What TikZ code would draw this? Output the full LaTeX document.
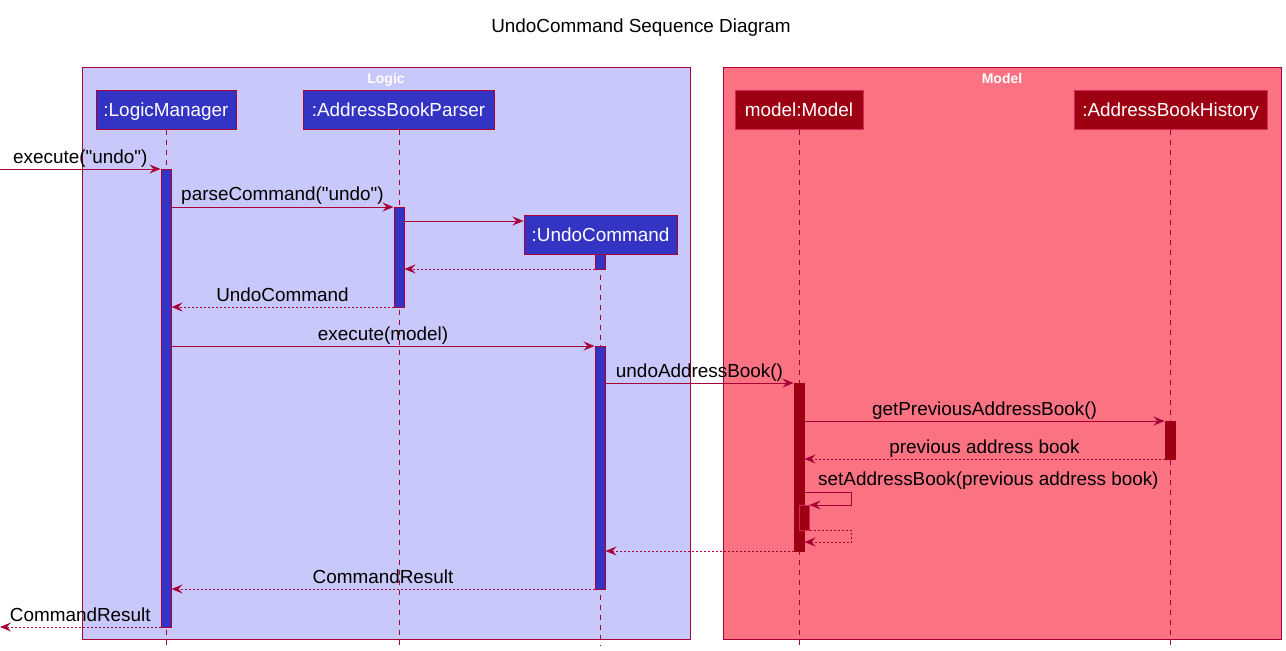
\documentclass[tikz,border=0pt]{standalone}
\usepackage{fontspec}
\setmainfont{Liberation Sans}[Ligatures=TeXOff]
\usetikzlibrary{arrows.meta}
\definecolor{bord}{RGB}{168,0,54}
\definecolor{logicbg}{RGB}{200,200,250}
\definecolor{modelbg}{RGB}{251,115,131}
\definecolor{pblue}{RGB}{51,51,196}
\definecolor{pred}{RGB}{157,0,18}
\definecolor{pborder}{RGB}{210,40,90}
\newcommand{\lblfont}{\fontsize{18.9}{22}\selectfont}
\newcommand{\grpfont}{\fontsize{14}{16}\selectfont\bfseries}
\begin{document}
\begin{tikzpicture}[x=1pt,y=-1pt,
  lbl/.style={font=\lblfont, inner sep=0pt, text=black},
  grp/.style={draw=bord, line width=1pt},
  grptitle/.style={font=\grpfont, text=white, inner sep=0pt, anchor=base},
  partB/.style={rectangle, fill=pblue, draw=bord, line width=1pt, text=white, font=\lblfont,
    inner sep=0pt, minimum height=39pt, text height=15pt, text depth=1pt},
  partR/.style={partB, fill=pred, draw=pborder},
  actB/.style={rectangle, fill=pblue, draw=bord, line width=1pt, inner sep=0pt, minimum width=10pt, anchor=north},
  actR/.style={actB, fill=pred, draw=pred},
  actR2/.style={actB, fill=pred, draw=pborder},
  life/.style={draw=bord, line width=1pt, dash pattern=on 5pt off 5pt},
  msg/.style={draw=bord, line width=1pt, -{Stealth[length=11pt,width=9pt,inset=4pt]}},
  ret/.style={msg, dash pattern=on 2pt off 2pt},
  mlbl/.style={lbl, midway, anchor=base, yshift=6pt}
]
\useasboundingbox (0,0) rectangle (1286,651);
\fill[white] (0,0) rectangle (1286,651);

% title
\node[lbl, anchor=base] (title) at (641,32) {UndoCommand Sequence Diagram};

% groups
\path[grp, fill=logicbg] (82,67) rectangle (690,639);
\node[grptitle] (logicT) at (386,83) {Logic};
\path[grp, fill=modelbg] (723,67) rectangle (1281,639);
\node[grptitle] (modelT) at (1002,83) {Model};

% participants
\node[partB, minimum width=140pt] (lmP) at (166,109.5) {:LogicManager};
\node[partB, minimum width=191pt] (paP) at (398.5,109.5) {:AddressBookParser};
\node[partB, minimum width=153pt] (ucP) at (600.5,234.5) {:UndoCommand};
\node[partR, minimum width=128pt] (mdP) at (799,109.5) {model:Model};
\node[partR, minimum width=193pt] (hiP) at (1170.5,109.5) {:AddressBookHistory};

% lifeline ends
\coordinate (lmE) at (166,646);
\coordinate (paE) at (399,646);
\coordinate (ucE) at (600,646);
\coordinate (mdE) at (799,646);
\coordinate (hiE) at (1170,646);

\draw[life] (lmP.south -| lmE) -- (lmE);
\draw[life] (paP.south -| paE) -- (paE);
\draw[life] (ucP.south -| ucE) -- (ucE);
\draw[life] (mdP.south -| mdE) -- (mdE);
\draw[life] (hiP.south -| hiE) -- (hiE);

% activations
\node[actB, minimum height=458pt] (lmA) at (166,169) {};
\node[actB, minimum height=100pt] (paA) at (399,207) {};
\node[actB, minimum height=15pt] (ucA1) at (600,254) {};
\node[actB, minimum height=243pt] (ucA2) at (600,346) {};
\node[actR, minimum height=168pt] (mdA) at (799,383) {};
\node[actR2, minimum height=25pt] (mdA2) at (804,505) {};
\node[actR, minimum height=38pt] (hiA) at (1170,421) {};

% free ends
\coordinate (inS) at (0,169);
\coordinate (outE) at (0,627);
\coordinate (loop1a) at (851,492);
\coordinate (loop1b) at (851,505);
\coordinate (loop2a) at (851,530);
\coordinate (loop2b) at (851,542);

% messages
\draw[msg] (inS) -- (lmA.west |- inS) node[mlbl] {execute("undo")};
\draw[msg] (lmA.east |- 0,207) -- (paA.west |- 0,207) node[mlbl, yshift=1pt] {parseCommand("undo")};
\draw[msg] (paA.east |- 0,221) -- (ucP.west |- 0,221);
\draw[ret] (ucA1.west |- 0,269) -- (paA.east |- 0,269);
\draw[ret] (paA.west |- 0,307) -- (lmA.east |- 0,307) node[mlbl] {UndoCommand};
\draw[msg] (lmA.east |- 0,346) -- (ucA2.west |- 0,346) node[mlbl] {execute(model)};
\draw[msg] (ucA2.east |- 0,383) -- (mdA.west |- 0,383) node[mlbl] {undoAddressBook()};
\draw[msg] (mdA.east |- 0,421) -- (hiA.west |- 0,421) node[mlbl] {getPreviousAddressBook()};
\draw[ret] (hiA.west |- 0,459) -- (mdA.east |- 0,459) node[mlbl] {previous address book};
\draw[msg] (mdA.east |- loop1a) -- (loop1a) -- (loop1b) -- (mdA2.east |- loop1b);
\node[lbl, anchor=base west] (setL) at (818,485) {setAddressBook(previous address book)};
\draw[ret] (mdA2.east |- loop2a) -- (loop2a) -- (loop2b) -- (mdA.east |- loop2b);
\draw[ret] (mdA.west |- 0,551) -- (ucA2.east |- 0,551);
\draw[ret] (ucA2.west |- 0,589) -- (lmA.east |- 0,589) node[mlbl] {CommandResult};
\draw[ret] (lmA.west |- outE) -- (outE) node[mlbl] {CommandResult};
\end{tikzpicture}
\end{document}
